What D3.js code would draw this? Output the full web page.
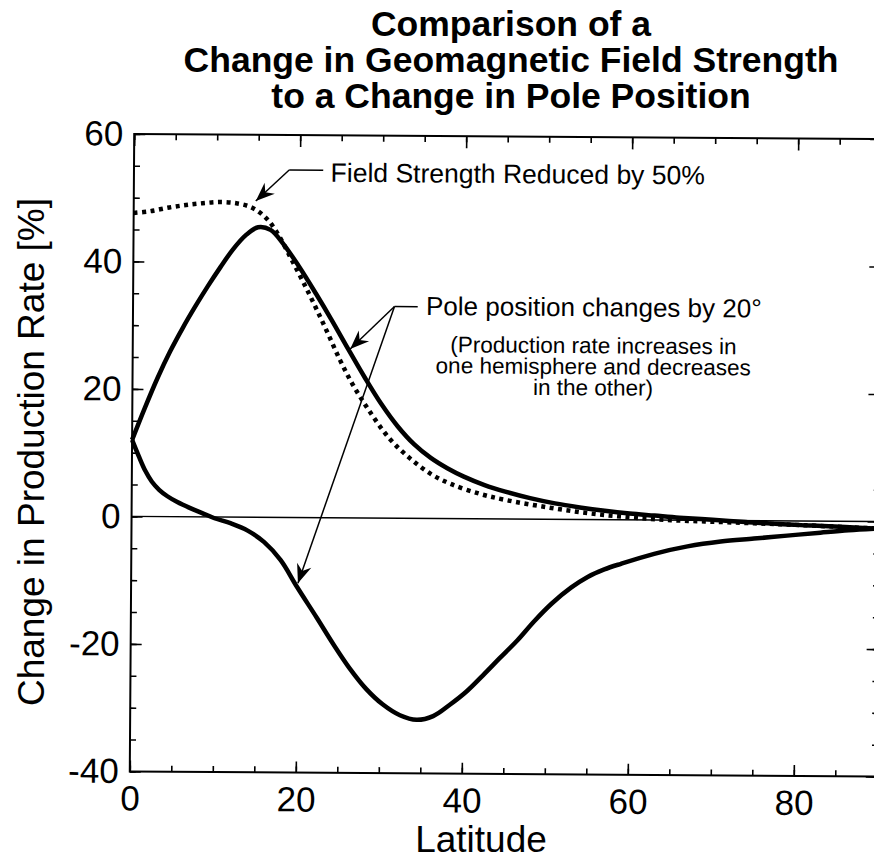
<!DOCTYPE html>
<html>
<head>
<meta charset="utf-8">
<script src="https://cdn.jsdelivr.net/npm/d3@7"></script>
<style>
  body { margin: 0; background: #fff; }
  svg { display: block; font-family: "Liberation Sans", Arial, Helvetica, sans-serif; }
</style>
</head>
<body>
<div id="chart"></div>
<script>
// values
const titleLines = ["Comparison of a", "Change in Geomagnetic Field Strength", "to a Change in Pole Position"];

const latUpper = [0,1.5,3,4.5,6,7.5,9,10.5,12,13.5,15,16.5,18,20,22,24,26,28,30,32,34,36,38,40,42.5,45,48,51,54,57,60,63,66,70,74,78,82,86,90];
const valUpper = [12,17,21.7,25.9,29.6,33,36.2,39.2,42,44.2,45.5,45.1,43,39.3,35.2,30.9,26.4,22,17.9,14.4,11.6,9.5,7.9,6.6,5.3,4.3,3.3,2.5,1.9,1.4,1.0,0.7,0.4,0.1,-0.2,-0.5,-0.7,-0.9,-1.1];

const latLower = [0,0.8,1.6,2.4,3.3,4.3,5.5,7,8.5,10,12,14,16,18,20,22.4,24.4,26.4,28.4,30.4,32.5,34.5,36.5,38.5,40.5,42.5,44.5,46.6,48.6,50.7,53,55,57,59,63,67,71,75,79,83,86.4,90];
const valLower = [12,9.5,7.2,5.5,4.2,3.2,2.3,1.4,0.6,-0.2,-1.0,-2.1,-3.9,-6.7,-10.9,-15.7,-19.8,-23.6,-26.8,-29.2,-30.9,-31.6,-31,-29.2,-27.1,-24.5,-21.8,-19,-16,-13.2,-10.7,-9.0,-7.8,-6.9,-5.3,-4.1,-3.3,-2.8,-2.3,-1.8,-1.4,-1.1];

const latField = [0,2,4.3,6.3,8.3,10.5,12.5,14,15.2,16.4,17.6,19,20.5,22,23.5,25,26.5,28.4,31,33.5,36,38.5,42,45,50,55,60,65,70,75,80,86,90];
const valField = [47.6,47.9,48.5,48.9,49.2,49.4,49.2,48.7,47.8,46.3,44,40.6,36.9,33,28.9,24.7,21,17.1,12.5,9.4,7.0,5.4,3.9,3.0,1.9,1.0,0.4,0,-0.2,-0.4,-0.6,-0.9,-1.1];

const xMajor = [0,20,40,60,80];
const yMajor = [-40,-20,0,20,40,60];

const W = 874, H = 864;
const m = {left: 132, top: 136.5, right: 879, bottom: 774};

const x = d3.scaleLinear().domain([0, 90]).range([m.left, m.right]);
const y = d3.scaleLinear().domain([-40, 60]).range([m.bottom, m.top]);

const svg = d3.select("#chart").append("svg")
  .attr("width", W).attr("height", H);

// title
svg.append("g").selectAll("text")
  .data(titleLines).enter().append("text")
  .attr("x", 511).attr("y", (d,i)=>36 + i*36)
  .attr("text-anchor", "middle")
  .attr("font-size", 35.5).attr("font-weight", "bold")
  .text(d=>d);

// the scan is tilted a little, so the plot is too
const g = svg.append("g")
  .attr("transform", `rotate(0.4, ${(m.left+m.right)/2}, ${(m.top+m.bottom)/2})`);

const defs = svg.append("defs");
defs.append("marker")
  .attr("id", "arrow")
  .attr("markerUnits", "userSpaceOnUse")
  .attr("viewBox", "-20 -8 22 16")
  .attr("refX", 0).attr("refY", 0)
  .attr("markerWidth", 22).attr("markerHeight", 16)
  .attr("orient", "auto")
  .append("path")
  .attr("d", "M0,0 L-19,-7.5 L-13,0 L-19,7.5 Z")
  .attr("fill", "#000");

// axes: ticks point inward on all four sides
function ticks(axis, vals, size, pad) {
  return axis.tickValues(vals).tickSize(size).tickPadding(pad || 0)
    .tickFormat(pad ? (d=>String(d)) : "");
}
const xMinor = d3.range(0, 91, 5), yMinor = d3.range(-40, 61, 5);

function styleAxis(sel) {
  sel.select(".domain").remove();
  sel.selectAll("line").attr("stroke", "#000").attr("stroke-width", 1.6);
  sel.selectAll("text").attr("font-size", 35).attr("fill", "#000")
    .attr("font-family", '"Liberation Sans", Arial, sans-serif');
}

g.append("g").attr("transform", `translate(0,${m.bottom})`)
  .call(ticks(d3.axisBottom(x), xMinor, -6)).call(styleAxis);
g.append("g").attr("transform", `translate(0,${m.bottom})`)
  .call(ticks(d3.axisBottom(x), xMajor, -11, 14)).call(styleAxis);
g.append("g").attr("transform", `translate(0,${m.top})`)
  .call(ticks(d3.axisTop(x), xMinor, -6)).call(styleAxis);
g.append("g").attr("transform", `translate(0,${m.top})`)
  .call(ticks(d3.axisTop(x), xMajor, -12)).call(styleAxis);

g.append("g").attr("transform", `translate(${m.left},0)`)
  .call(ticks(d3.axisLeft(y), yMinor, -6)).call(styleAxis);
g.append("g").attr("transform", `translate(${m.left},0)`)
  .call(ticks(d3.axisLeft(y), yMajor, -11, 11)).call(styleAxis);
g.append("g").attr("transform", `translate(${m.right},0)`)
  .call(ticks(d3.axisRight(y), yMinor, -5)).call(styleAxis);
g.append("g").attr("transform", `translate(${m.right},0)`)
  .call(ticks(d3.axisRight(y), yMajor, -11)).call(styleAxis);

// frame
g.append("rect")
  .attr("x", m.left).attr("y", m.top)
  .attr("width", m.right - m.left).attr("height", m.bottom - m.top)
  .attr("fill", "none").attr("stroke", "#000").attr("stroke-width", 2);

// zero line
g.append("line")
  .attr("x1", x(0)).attr("x2", x(90)).attr("y1", y(0)).attr("y2", y(0))
  .attr("stroke", "#000").attr("stroke-width", 1.4);

// curves
const line = d3.line().x(d=>x(d[0])).y(d=>y(d[1])).curve(d3.curveCatmullRom.alpha(0.5));
const zip = (a,b)=>a.map((v,i)=>[v,b[i]]);

g.append("path").datum(zip(latField, valField))
  .attr("d", line).attr("fill", "none").attr("stroke", "#000")
  .attr("stroke-width", 4.5).attr("stroke-dasharray", "4,4.5");
g.append("path").datum(zip(latUpper, valUpper))
  .attr("d", line).attr("fill", "none").attr("stroke", "#000").attr("stroke-width", 4.5);
g.append("path").datum(zip(latLower, valLower))
  .attr("d", line).attr("fill", "none").attr("stroke", "#000").attr("stroke-width", 4.5);

// annotations (positions in data units)
const leader = d3.line().x(d=>x(d[0])).y(d=>y(d[1]));
function arrow(pts) {
  g.append("path").datum(pts).attr("d", leader)
    .attr("fill", "none").attr("stroke", "#000").attr("stroke-width", 1.5)
    .attr("marker-end", "url(#arrow)");
}
// field strength
g.append("path").datum([[22.8, 54.5], [18.7, 54.5]]).attr("d", leader)
  .attr("fill", "none").attr("stroke", "#000").attr("stroke-width", 1.5);
arrow([[18.7, 54.5], [14.7, 49.6]]);
g.append("text").attr("x", x(23.7)).attr("y", y(52.7))
  .attr("font-size", 26.5).text("Field Strength Reduced by 50%");

// pole position
g.append("path").datum([[34.3, 33.2], [31.5, 33.2]]).attr("d", leader)
  .attr("fill", "none").attr("stroke", "#000").attr("stroke-width", 1.5);
arrow([[31.5, 33.2], [26.2, 26.5]]);
arrow([[31.5, 33.2], [20.1, -10.3]]);
g.append("text").attr("x", x(35.3)).attr("y", y(31.9))
  .attr("font-size", 26).text("Pole position changes by 20°");

const noteLines = ["(Production rate increases in", "one hemisphere and decreases", "in the other)"];
g.append("g").selectAll("text").data(noteLines).enter().append("text")
  .attr("x", x(55.5)).attr("y", (d,i)=>y(26.1 - i*3.3))
  .attr("text-anchor", "middle").attr("font-size", 22.5).text(d=>d);

// axis titles
svg.append("text").attr("x", 481).attr("y", 852)
  .attr("text-anchor", "middle").attr("font-size", 37).text("Latitude");
svg.append("text")
  .attr("transform", `translate(44,452) rotate(-90)`)
  .attr("text-anchor", "middle").attr("font-size", 37).text("Change in Production Rate [%]");
</script>
</body>
</html>
